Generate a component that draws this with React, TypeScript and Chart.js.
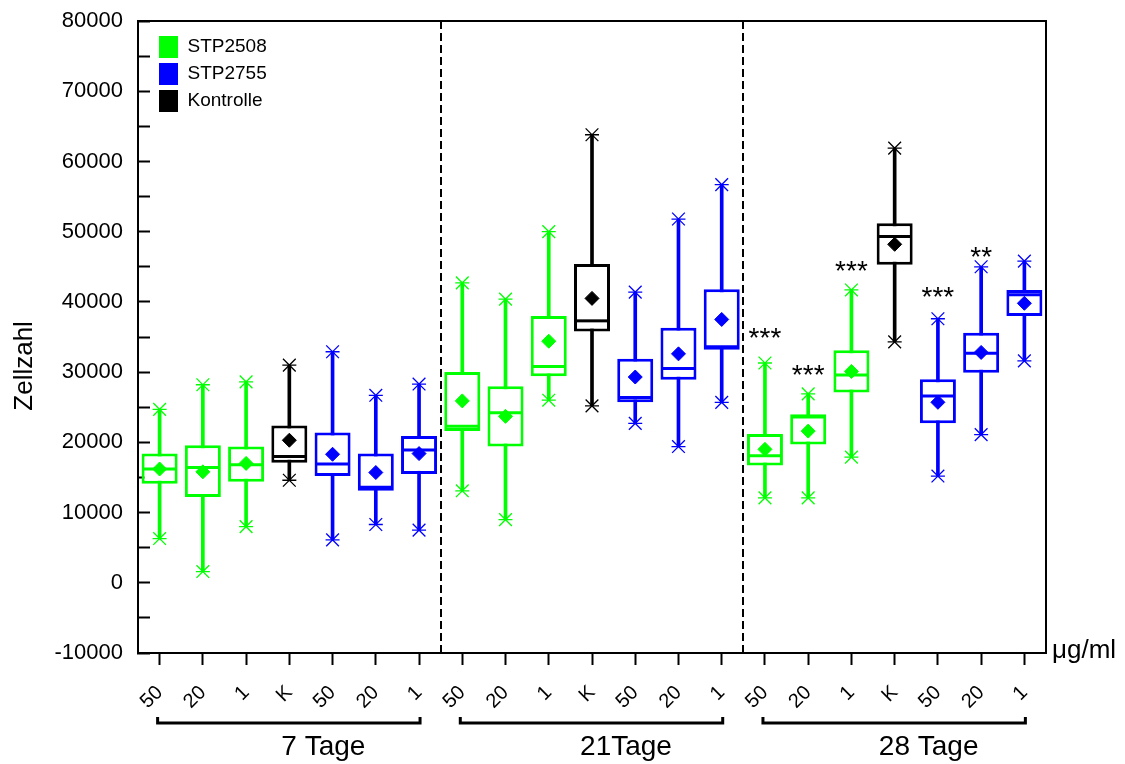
import React, { useEffect, useRef } from 'react';
import { Chart, registerables } from 'chart.js';

Chart.register(...registerables);

const FONT = "'Liberation Sans', Arial, Helvetica, sans-serif";

// ---------- data ----------
const categories = ['50', '20', '1', 'K', '50', '20', '1', '50', '20', '1', 'K', '50', '20', '1', '50', '20', '1', 'K', '50', '20', '1'];
const seriesOf = [
  'STP2508', 'STP2508', 'STP2508', 'Kontrolle', 'STP2755', 'STP2755', 'STP2755',
  'STP2508', 'STP2508', 'STP2508', 'Kontrolle', 'STP2755', 'STP2755', 'STP2755',
  'STP2508', 'STP2508', 'STP2508', 'Kontrolle', 'STP2755', 'STP2755', 'STP2755',
];
const groupLabels = ['7 Tage', '21Tage', '28 Tage'];
const legendNames = ['STP2508', 'STP2755', 'Kontrolle'];
const legendColors = ['#00FF00', '#0000FF', '#000000'];

const minVals = [6300, 1600, 8000, 14600, 6100, 8300, 7500, 13100, 9000, 26000, 25200, 22700, 19400, 25700, 12100, 12100, 17900, 34300, 15200, 21100, 31600];
const q1Vals = [14100, 12200, 14400, 17100, 15200, 13100, 15500, 21600, 19400, 29400, 35800, 25700, 28900, 33200, 16700, 19700, 27100, 45300, 22700, 29900, 38000];
const medianVals = [16200, 16400, 16800, 18000, 16900, 13600, 18900, 22300, 24200, 30800, 37300, 26400, 30500, 33600, 18100, 23600, 29600, 49300, 26600, 32700, 41000];
const q3Vals = [18400, 19600, 19400, 22400, 21400, 18400, 20900, 30000, 28000, 38000, 45400, 31900, 36300, 41800, 21200, 24000, 33100, 51200, 29000, 35600, 41700];
const maxVals = [24700, 28200, 28600, 31000, 32900, 26700, 28300, 42700, 40400, 50000, 63800, 41400, 51800, 56700, 31300, 26900, 41700, 61900, 37600, 45000, 45800];
const meanVals = [16200, 15800, 17000, 20300, 18300, 15700, 18400, 25900, 23700, 34400, 40500, 29300, 32600, 37500, 19000, 21600, 30100, 48200, 25700, 32800, 39800];

const sigText = ['', '', '', '', '', '', '', '', '', '', '', '', '', '', '***', '***', '***', '', '***', '**', ''];
const sigLevel = [null, null, null, null, null, null, null, null, null, null, null, null, null, null, 35800, 30500, 45400, null, 41600, 47300, null];

const yMin = -10000;
const yMax = 80000;
const yStep = 5000;
const yLabelStep = 10000;
const yTitle = 'Zellzahl';
const unitLabel = 'μg/ml';

// ---------- derived ----------
const colorOf = (name: string) => legendColors[legendNames.indexOf(name)];
const catColors = seriesOf.map(colorOf);
const boxData = q1Vals.map((v, i) => [v, q3Vals[i]]);
const whiskerData = minVals.map((v, i) => [v, maxVals[i]]);

const decorPlugin = {
  id: 'decor',
  afterLayout(chart: any) {
    const lg = chart.legend;
    const ca = chart.chartArea;
    if (lg) {
      lg.left = ca.left + 16;
      lg.top = ca.top + 10;
    }
  },
  afterDatasetsDraw(chart: any) {
    const { ctx, chartArea: ca, scales } = chart;
    const xs = scales.x;
    const ys = scales.y;
    ctx.save();
    // frame (top & right)
    ctx.strokeStyle = '#000';
    ctx.lineWidth = 2;
    ctx.beginPath();
    ctx.moveTo(ca.left - 1, ca.top);
    ctx.lineTo(ca.right, ca.top);
    ctx.lineTo(ca.right, ca.bottom);
    ctx.stroke();

    // significance marks
    const sf = 28;
    ctx.fillStyle = '#000';
    ctx.font = `${sf}px ${FONT}`;
    ctx.textAlign = 'center';
    ctx.textBaseline = 'alphabetic';
    sigText.forEach((t, i) => {
      const lv = sigLevel[i];
      if (!t || lv === null) return;
      const px = xs.getPixelForValue(i);
      const py = ys.getPixelForValue(lv);
      ctx.fillText(t, px, py + 0.56 * sf);
    });

    // unit label
    ctx.font = `26px ${FONT}`;
    ctx.textAlign = 'left';
    ctx.fillText(unitLabel, ca.right + 6, ca.bottom + 5);

    // group brackets
    const per = categories.length / groupLabels.length;
    const yb = ca.bottom + 70;
    ctx.lineWidth = 3;
    for (let g = 0; g < groupLabels.length; g++) {
      const x1 = xs.getPixelForValue(g * per) - 2;
      const x2 = xs.getPixelForValue(g * per + per - 1) + 1;
      ctx.beginPath();
      ctx.moveTo(x1, yb - 6);
      ctx.lineTo(x1, yb);
      ctx.lineTo(x2, yb);
      ctx.lineTo(x2, yb - 6);
      ctx.stroke();
    }
    ctx.restore();
  },
};

export default function App() {
  const ref = useRef<HTMLCanvasElement | null>(null);

  useEffect(() => {
    if (!ref.current) return;
    Chart.defaults.font.family = FONT;
    const pointDs = (data: number[], style: string, radius: number, width: number, fill = false) => ({
      type: 'line' as const,
      data,
      showLine: false,
      pointStyle: style,
      pointRadius: radius,
      pointHoverRadius: radius,
      pointBorderWidth: width,
      pointBorderColor: catColors,
      pointBackgroundColor: fill ? catColors : 'rgba(0,0,0,0)',
    });

    const chart = new Chart(ref.current, {
      type: 'bar',
      data: {
        labels: categories,
        datasets: [
          pointDs(meanVals, 'rectRot', 7, 1, true) as any,
          pointDs(medianVals, 'line', 16, 3) as any,
          pointDs(maxVals, 'crossRot', 9, 1.3) as any,
          pointDs(maxVals, 'line', 7, 1.3) as any,
          pointDs(minVals, 'crossRot', 9, 1.3) as any,
          pointDs(minVals, 'line', 7, 1.3) as any,
          {
            type: 'bar',
            data: boxData as any,
            grouped: false,
            barThickness: 36,
            backgroundColor: '#ffffff',
            borderColor: catColors,
            borderWidth: 3,
            borderSkipped: false,
            inflateAmount: 0,
          } as any,
          {
            type: 'bar',
            data: whiskerData as any,
            grouped: false,
            barThickness: 3,
            backgroundColor: catColors,
            borderWidth: 0,
          } as any,
        ],
      },
      options: {
        responsive: false,
        animation: false,
        events: [],
        layout: { padding: { left: 0, top: 21, right: 79, bottom: 0 } },
        plugins: {
          tooltip: { enabled: false },
          legend: {
            position: 'chartArea' as any,
            align: 'start',
            labels: {
              boxWidth: 19,
              boxHeight: 22,
              padding: 5,
              color: '#000',
              font: { size: 19 },
              useBorderRadius: true,
              borderRadius: 2,
              generateLabels: () =>
                legendNames.map((n, i) => ({
                  text: n,
                  fillStyle: legendColors[i],
                  strokeStyle: legendColors[i],
                  lineWidth: 0,
                  hidden: false,
                  fontColor: '#000',
                })) as any,
            },
          },
        },
        scales: {
          x: {
            type: 'category',
            offset: true,
            grid: {
              offset: false,
              drawOnChartArea: false,
              drawTicks: true,
              tickLength: 12,
              tickWidth: 2,
              tickColor: '#000',
            },
            border: { color: '#000', width: 2 },
            ticks: {
              color: '#000',
              font: { size: 20 },
              minRotation: 45,
              maxRotation: 45,
              autoSkip: false,
              padding: 16,
            },
            afterFit: (s: any) => {
              s.height = 62;
            },
          },
          xg: {
            type: 'category',
            labels: groupLabels,
            position: 'bottom',
            offset: true,
            weight: 1,
            grid: {
              offset: true,
              drawTicks: false,
              drawOnChartArea: true,
              lineWidth: 2,
              color: (c: any) => (c.index > 0 && c.index < groupLabels.length ? '#000' : 'rgba(0,0,0,0)'),
            },
            border: { display: false, dash: [8, 4] },
            ticks: {
              color: '#000',
              font: { size: 28 },
              padding: 15,
              labelOffset: 34,
              autoSkip: false,
              maxRotation: 0,
            },
            afterFit: (s: any) => {
              s.height = 49;
            },
          },
          y: {
            type: 'linear',
            min: yMin,
            max: yMax,
            ticks: {
              stepSize: yStep,
              color: '#000',
              font: { size: 22 },
              padding: 27,
              callback: (v: any) => (Number(v) % yLabelStep === 0 ? String(v) : ''),
            },
            grid: {
              drawOnChartArea: false,
              drawTicks: true,
              tickLength: -12,
              tickWidth: 2,
              tickColor: '#000',
            },
            border: { color: '#000', width: 2 },
            title: {
              display: true,
              text: yTitle + '        ',
              color: '#000',
              font: { size: 26 },
              padding: { top: 9, bottom: 0 },
            },
            afterFit: (s: any) => {
              s.width = 138;
              s.paddingTop = 0;
              s.paddingBottom = 0;
            },
          },
        },
      } as any,
      plugins: [decorPlugin],
    });
    return () => chart.destroy();
  }, []);

  return (
    <div style={{ position: 'absolute', left: 0, top: 0, width: 1125, height: 764, background: '#fff' }}>
      <canvas ref={ref} width={1125} height={764} style={{ display: 'block' }} />
    </div>
  );
}
